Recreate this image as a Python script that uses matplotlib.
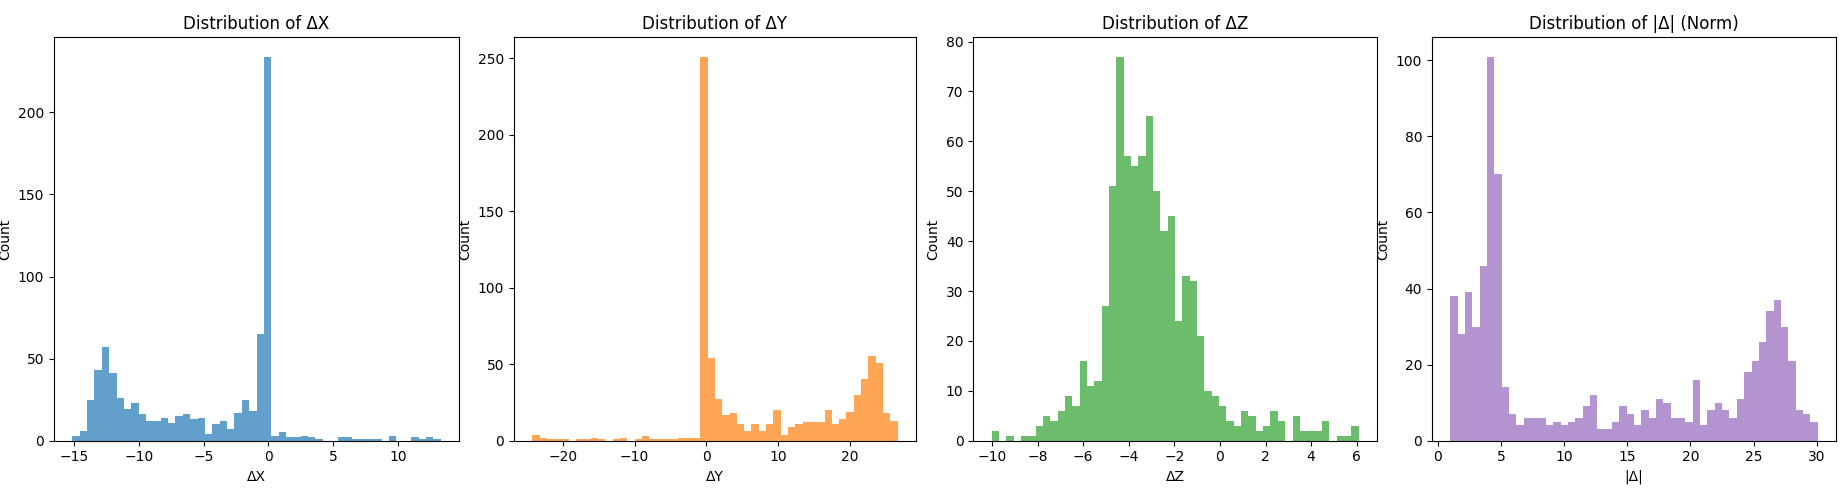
import numpy as np
import matplotlib
matplotlib.use("Agg")
import matplotlib.pyplot as plt

# bin counts (50 bins per panel)
dx_counts = [3, 6, 25, 43, 57, 41, 26, 19, 23, 16,
             12, 12, 14, 11, 15, 16, 13, 14, 4, 10,
             12, 7, 17, 25, 18, 65, 234, 3, 5, 2,
             2, 3, 2, 1, 0, 0, 2, 2, 1, 1,
             1, 1, 0, 3, 0, 0, 2, 1, 2, 1]
dx_range = (-15.13, 13.31)

dy_counts = [4, 2, 1, 1, 1, 0, 1, 1, 2, 1,
             0, 1, 2, 0, 1, 3, 1, 1, 1, 1,
             2, 2, 2, 251, 54, 27, 17, 18, 11, 6,
             11, 6, 11, 20, 4, 9, 11, 12, 12, 12,
             20, 11, 14, 19, 30, 40, 55, 51, 18, 13]
dy_range = (-24.24, 26.6)

dz_counts = [2, 0, 1, 0, 1, 1, 3, 5, 4, 6,
             9, 7, 16, 11, 12, 27, 51, 77, 57, 55,
             57, 65, 50, 42, 45, 24, 33, 32, 21, 10,
             9, 7, 4, 3, 6, 5, 2, 3, 6, 4,
             0, 5, 2, 2, 2, 4, 0, 1, 1, 3]
dz_range = (-10.02, 6.08)

norm_counts = [38, 28, 39, 30, 46, 101, 70, 14, 7, 4,
               6, 6, 6, 4, 5, 4, 5, 6, 9, 12,
               3, 3, 5, 9, 7, 4, 8, 6, 11, 10,
               6, 6, 5, 16, 4, 8, 10, 8, 6, 11,
               18, 21, 26, 34, 37, 30, 21, 8, 7, 5]
norm_range = (1.0, 30.07)

panels = [
    ("Distribution of ΔX", "ΔX", dx_counts, dx_range, "tab:blue"),
    ("Distribution of ΔY", "ΔY", dy_counts, dy_range, "tab:orange"),
    ("Distribution of ΔZ", "ΔZ", dz_counts, dz_range, "tab:green"),
    ("Distribution of |Δ| (Norm)", "|Δ|", norm_counts, norm_range, "tab:purple"),
]

# axes boxes (left, width) in figure fractions, matched to the reference
boxes = [(0.0292, 0.2192), (0.2781, 0.2175), (0.5266, 0.2185), (0.7749, 0.2186)]
bottom, height = 0.1187, 0.8066

fig = plt.figure(figsize=(18.48, 5), dpi=100)
for (left, width), (title, xlabel, counts, rng, color) in zip(boxes, panels):
    ax = fig.add_axes([left, bottom, width, height])
    edges = np.linspace(rng[0], rng[1], len(counts) + 1)
    ax.hist(edges[:-1], bins=edges, weights=counts, color=color, alpha=0.7)
    ax.set_title(title)
    ax.set_xlabel(xlabel)
    ax.set_ylabel("Count")

plt.savefig("out.png")
plt.close()
